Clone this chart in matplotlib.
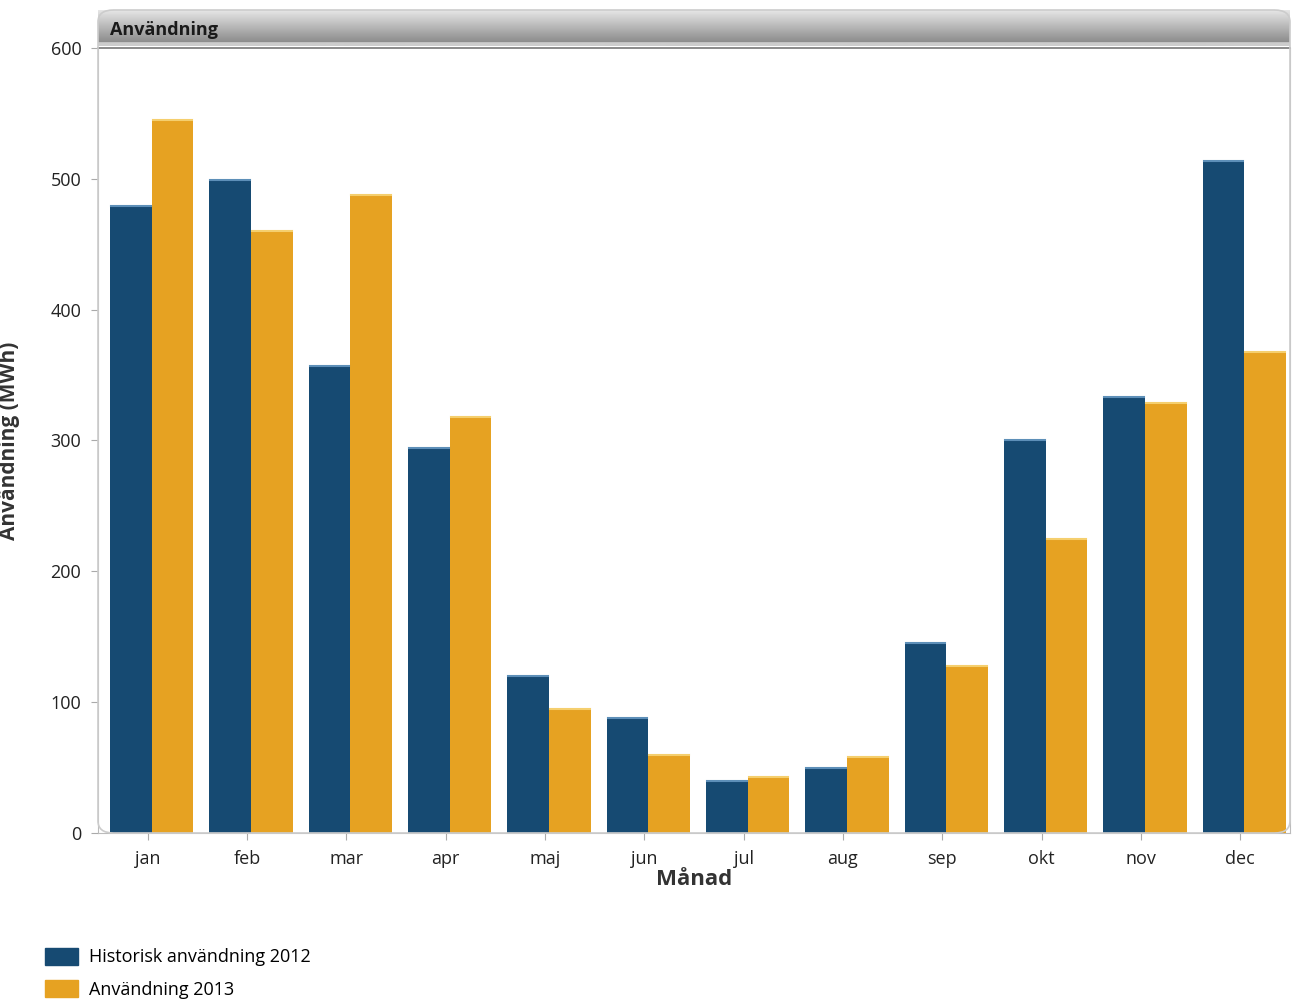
import matplotlib.pyplot as plt
import matplotlib.patches as mpatches
import numpy as np

months = ['jan', 'feb', 'mar', 'apr', 'maj', 'jun', 'jul', 'aug', 'sep', 'okt', 'nov', 'dec']
usage_2012 = [479, 499, 357, 294, 120, 88, 40, 50, 145, 300, 333, 514]
usage_2013 = [545, 460, 488, 318, 95, 60, 43, 58, 128, 225, 329, 368]
yticks = [0, 100, 200, 300, 400, 500, 600]

blue = '#164a72'
orange = '#e6a222'

plt.rcParams['font.family'] = ['Open Sans', 'DejaVu Sans']

fig = plt.figure(figsize=(12.96, 10.02), dpi=100)
W, H = 1296, 1002
# axes box in pixels: left 98, right 1290, top 48, bottom 833
ax = fig.add_axes([98 / W, 1 - 833 / H, (1290 - 98) / W, (833 - 48) / H])

x = np.arange(len(months))
bw = 0.42
ax.bar(x - bw / 2 + 0.04, usage_2012, width=bw, color=blue, edgecolor='none',
       label='Historisk användning 2012')
ax.bar(x + bw / 2 + 0.04, usage_2013, width=bw, color=orange, edgecolor='none',
       label='Användning 2013')

# light highlight on bar tops
for xi, v in zip(x, usage_2012):
    ax.plot([xi - bw + 0.05, xi + 0.03], [v, v], color='#5d8fb8', lw=1.5)
for xi, v in zip(x, usage_2013):
    ax.plot([xi + 0.05, xi + bw + 0.03], [v, v], color='#f5cf6e', lw=1.5)

ax.set_xlim(-0.5, 11.5)
ax.set_ylim(0, 600)
ax.set_xticks(x)
ax.set_xticklabels(months, fontsize=13, color='#222222')
ax.set_yticks(yticks)
ax.set_yticklabels([str(t) for t in yticks], fontsize=13, color='#222222')
ax.tick_params(axis='both', length=5, color='#aaaaaa', pad=7)

for side in ['left', 'bottom', 'top', 'right']:
    ax.spines[side].set_color('#bbbbbb')
ax.spines['top'].set_color('#777777')
ax.spines['top'].set_linewidth(1.2)

ax.set_xlabel('Månad', fontsize=16, fontweight='bold', color='#333333', labelpad=1)
ax.set_ylabel('Användning (MWh)', fontsize=15, fontweight='bold', color='#333333', labelpad=22)

# title bar with grey gradient
tax = fig.add_axes([98 / W, 1 - 46 / H, (1290 - 98) / W, 36 / H])
grad = np.linspace(0.90, 0.55, 50).reshape(-1, 1)
grad = np.vstack([grad, np.full((6, 1), 0.80)])
tax.imshow(grad, aspect='auto', cmap='gray', vmin=0, vmax=1, extent=[0, 1, 0, 1])
tax.set_xlim(0, 1)
tax.set_ylim(0, 1)
tax.axis('off')
frame = mpatches.FancyBboxPatch((98 / W, 1 - 833 / H), (1290 - 98) / W, (833 - 10) / H,
                                boxstyle='round,pad=0,rounding_size=0.012',
                                transform=fig.transFigure, fill=False,
                                edgecolor='#cccccc', lw=1.2)
fig.patches.append(frame)
tax.text(0.01, 0.45, 'Användning', fontsize=13, fontweight='bold', color='#1a1a1a',
         va='center', ha='left', transform=tax.transAxes)

handles = [mpatches.Patch(color=blue, label='Historisk användning 2012'),
           mpatches.Patch(color=orange, label='Användning 2013')]
fig.legend(handles=handles, loc='lower left', bbox_to_anchor=(29 / W, -0.013),
           frameon=False, fontsize=13, handlelength=1.8, handleheight=1.1,
           handletextpad=0.6, labelspacing=0.75)

fig.savefig('out.png', dpi=100)
